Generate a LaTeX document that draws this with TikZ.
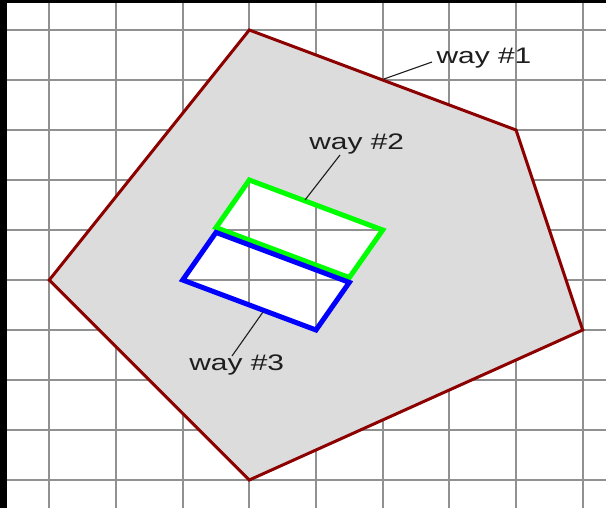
\documentclass[tikz,border=0pt]{standalone}
\usepackage{fontspec}
\setmainfont{Liberation Sans}
\definecolor{gridgray}{RGB}{145,145,145}
\definecolor{areafill}{RGB}{220,220,220}
\definecolor{wayred}{RGB}{140,0,0}
\definecolor{waygreen}{RGB}{0,255,0}
\definecolor{wayblue}{RGB}{0,0,255}
\definecolor{labelink}{RGB}{30,30,30}
\begin{document}
\begin{tikzpicture}[x=1pt,y=-1pt,
  gridline/.style={draw=gridgray, line width=2pt},
  outline/.style={draw=wayred, line width=3pt, line join=miter},
  greenway/.style={draw=waygreen, line width=5pt, line join=miter},
  blueway/.style={draw=wayblue, line width=5pt, line join=miter},
  leader/.style={draw=labelink, line width=1.1pt},
  waylabel/.style={inner sep=0pt, anchor=base, xscale=1.33, text=labelink,
    font=\fontsize{22.5}{24}\selectfont}]
\useasboundingbox (0,0) rectangle (606,508);
\fill[white] (0,0) rectangle (606,508);
% grid
\foreach \i in {0,...,8}
  \draw[gridline] ({49.3+66.67*\i},3) -- ({49.3+66.67*\i},508);
\foreach \j in {0,...,9}
  \draw[gridline] (7,{30+50*\j}) -- (606,{30+50*\j});
% frame strips
\fill[black] (0,0) rectangle (7,508);
\fill[black] (0,0) rectangle (606,3);
% polygon (way #1)
\coordinate (P1) at (249.3,30);
\coordinate (P2) at (516,130);
\coordinate (P3) at (582.7,330);
\coordinate (P4) at (249.3,480);
\coordinate (P5) at (49.3,280);
% hole
\coordinate (H1) at (249.3,180);
\coordinate (H2) at (382.7,230);
\coordinate (H3) at (316,330);
\coordinate (H4) at (182.7,280);
\coordinate (G3) at (349.3,277.6);
\coordinate (G4) at (216,227.6);
\coordinate (B1) at (216,232.4);
\coordinate (B2) at (349.3,282.4);
\fill[areafill, even odd rule] (P1)--(P2)--(P3)--(P4)--(P5)--cycle
  (H1)--(H2)--(H3)--(H4)--cycle;
\draw[outline] (P1)--(P2)--(P3)--(P4)--(P5)--cycle;
\draw[greenway] (H1)--(H2)--(G3)--(G4)--cycle;
\draw[blueway] (B1)--(B2)--(H3)--(H4)--cycle;
% labels
\node[waylabel] (w1) at (484,63.3) {way \#1};
\node[waylabel] (w2) at (356.7,150) {way \#2};
\node[waylabel] (w3) at (236.7,370.5) {way \#3};
\coordinate (L1a) at (384,79);
\coordinate (L1b) at (432,62);
\coordinate (L2a) at (305,200);
\coordinate (L2b) at (340,155);
\coordinate (L3a) at (263,312);
\coordinate (L3b) at (232,356);
\draw[leader] (L1a) -- (L1b);
\draw[leader] (L2a) -- (L2b);
\draw[leader] (L3a) -- (L3b);
\end{tikzpicture}
\end{document}
